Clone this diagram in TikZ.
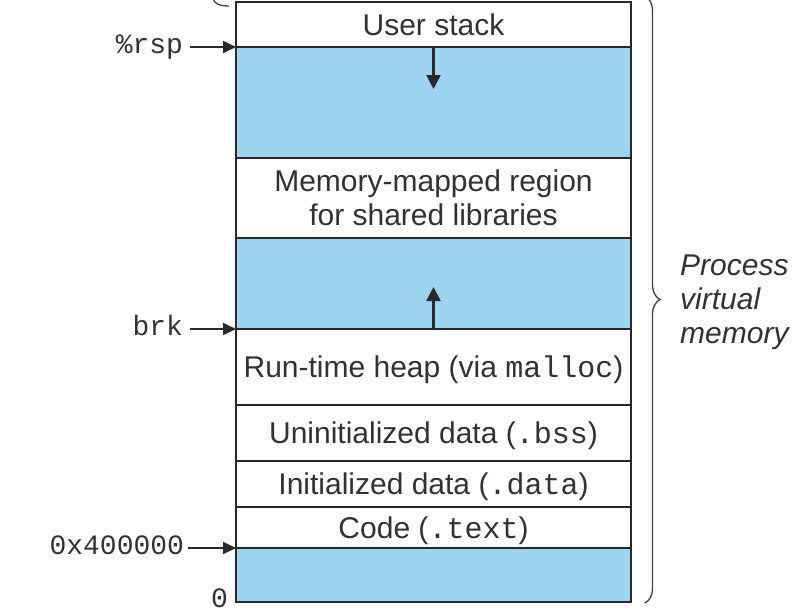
\documentclass[tikz,border=0pt]{standalone}
\usepackage{fontspec}
\setmainfont{Liberation Sans}
\setmonofont{Liberation Mono}
\usetikzlibrary{arrows.meta,decorations.pathreplacing}
\definecolor{freec}{RGB}{157,212,242}
\definecolor{linec}{RGB}{40,40,40}
\definecolor{txtc}{RGB}{50,50,50}
\begin{document}
\begin{tikzpicture}[x=1pt,y=-1pt,
  region/.style={draw=linec, line width=2pt, minimum width=395pt, anchor=north west,
    inner sep=0pt, outer sep=0pt, font=\fontsize{30}{34}\selectfont, text=txtc},
  freereg/.style={region, fill=freec},
  usedreg/.style={region, fill=white},
  oneline/.style={text height=21.5pt, text depth=0pt},
  ptr/.style={-{Triangle[length=13pt,width=12pt]}, line width=1.8pt, draw=linec, shorten <=7pt},
  lbl/.style={font=\ttfamily\fontsize{28}{30}\selectfont, text=txtc, anchor=east,
    inner sep=0pt, outer sep=0pt, text height=19pt, text depth=7pt},
  growarrow/.style={-{Triangle[length=14pt,width=14pt]}, line width=2.4pt, draw=linec},
  bracec/.style={draw=black!75, line width=1.3pt}]
\useasboundingbox (0,0) rectangle (794,613);

% regions, top to bottom
\node[usedreg, oneline, minimum height=45pt]  (stack) at (236,2)   {User stack};
\node[freereg, minimum height=111pt] (gap1)  at (236,47)  {};
\node[usedreg, align=center, minimum height=80pt]  (mmap)  at (236,158) {Memory-mapped region\\for shared libraries};
\node[freereg, minimum height=91pt]  (gap2)  at (236,238) {};
\node[usedreg, oneline, minimum height=76pt]  (heap)  at (236,329) {Run-time heap (via \texttt{malloc})};
\node[usedreg, oneline, minimum height=56pt]  (bss)   at (236,405) {Uninitialized data (\texttt{.bss})};
\node[usedreg, oneline, minimum height=46pt]  (data)  at (236,461) {Initialized data (\texttt{.data})};
\node[usedreg, oneline, minimum height=41pt]  (text)  at (236,507) {Code (\texttt{.text})};
\node[freereg, minimum height=54pt]  (low)   at (236,548) {};

% growth arrows
\coordinate (stackend) at (433.5,89);
\coordinate (heapend) at (433.5,287);
\draw[growarrow] (gap1.north) -- (stackend);
\draw[growarrow] (gap2.south) -- (heapend);

% pointer labels
\node[lbl] (rsp) at (183,47) {\%rsp};
\node[lbl] (brk) at (183,329) {brk};
\node[lbl] (start) at (184,548) {0x400000};
\node[lbl] (zero) at (228,601) {0};
\draw[ptr] (rsp.east) -- (gap1.north west);
\draw[ptr] (brk.east) -- (heap.north west);
\draw[ptr, shorten <=4pt] (start.east) -- (low.north west);

% brace
\draw[bracec, decorate, decoration={brace, amplitude=15pt}] (645,-4) -- (645,603);
\node[font=\itshape\fontsize{30}{34}\selectfont, text=txtc, align=left, anchor=west,
  inner sep=0pt] (pvm) at (680,302) {Process\\virtual\\memory};

% fragment at top left (cut-off brace end)
\draw[bracec] (213,-2) .. controls (214,4) and (220,6) .. (229,6);
\end{tikzpicture}
\end{document}
